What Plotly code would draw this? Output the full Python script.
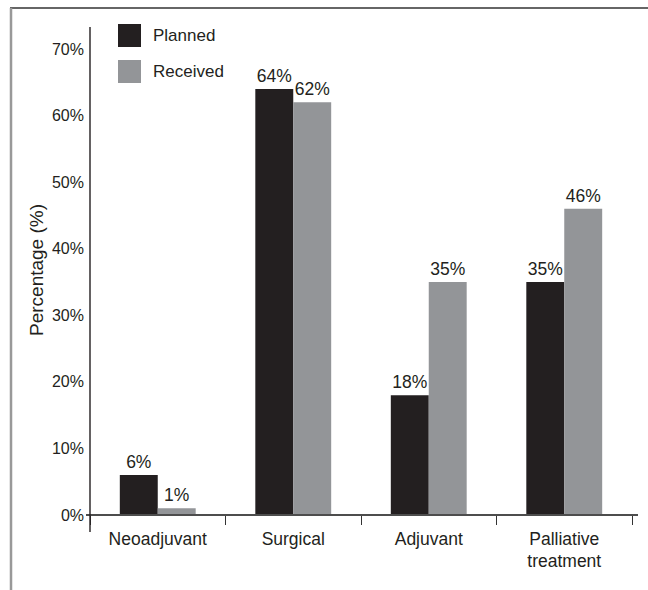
import plotly.graph_objects as go

# Treatment categories and percentages of patients
categories = ["Neoadjuvant", "Surgical", "Adjuvant", "Palliative<br>treatment"]
planned = [6, 64, 18, 35]
received = [1, 62, 35, 46]
series_names = ["Planned", "Received"]
y_ticks = [0, 10, 20, 30, 40, 50, 60, 70]
y_tick_labels = [f"{v}%" for v in y_ticks]

W, H = 648, 590
L, R, T, B = 90, 16, 27, 75
PW, PH = W - L - R, H - T - B

DARK = "#231f20"
GRAY = "#939598"
FONT = "Liberation Sans, Arial, sans-serif"


def px(x):
    return (x - L) / PW


def py(y):
    return (H - B - y) / PH


fig = go.Figure()
for name, vals, col in [(series_names[0], planned, DARK), (series_names[1], received, GRAY)]:
    fig.add_trace(go.Bar(
        x=categories, y=vals, name=name,
        marker=dict(color=col, line=dict(width=0)),
        text=[f"{v}%" for v in vals], textposition="outside",
        textfont=dict(size=17.5, color=DARK, family=FONT),
        constraintext="none", cliponaxis=False,
        showlegend=False,
    ))

shapes = [
    # outer frame (top and left)
    dict(type="line", xref="paper", yref="paper", x0=px(10), x1=px(W), y0=py(8), y1=py(8),
         line=dict(color="#333333", width=1.6)),
    dict(type="line", xref="paper", yref="paper", x0=px(11), x1=px(11), y0=py(8), y1=py(H),
         line=dict(color="#999999", width=2.5)),
    # axis lines
    dict(type="line", xref="paper", yref="paper", x0=px(86), x1=px(638), y0=0, y1=0,
         line=dict(color="#4d4d4d", width=1.8)),
    dict(type="line", xref="paper", yref="paper", x0=0, x1=0, y0=py(27), y1=py(532),
         line=dict(color=DARK, width=1.4)),
]

# legend swatches and labels
annotations = []
for i, (name, col) in enumerate([(series_names[0], DARK), (series_names[1], GRAY)]):
    y0 = 24 + i * 36
    shapes.append(dict(type="rect", xref="paper", yref="paper",
                       x0=px(118), x1=px(141), y0=py(y0), y1=py(y0 + 23),
                       fillcolor=col, line=dict(width=0)))
    annotations.append(dict(xref="paper", yref="paper", x=px(151), y=py(y0 + 11.5),
                            text=name, showarrow=False, xanchor="left", yanchor="middle",
                            font=dict(size=17, color=DARK, family=FONT)))

annotations.append(dict(xref="paper", yref="paper", x=px(36), y=py(270),
                        text="Percentage (%)", textangle=-90, showarrow=False,
                        xanchor="center", yanchor="middle",
                        font=dict(size=19, color=DARK, family=FONT)))

fig.update_layout(
    width=W, height=H,
    margin=dict(l=L, r=R, t=T, b=B, autoexpand=False),
    paper_bgcolor="white", plot_bgcolor="white",
    barmode="group", bargap=0.44, bargroupgap=0,
    font=dict(family=FONT, color=DARK),
    shapes=shapes, annotations=annotations,
    xaxis=dict(
        type="category", range=[-0.5, 3.5], showline=False, showgrid=False, zeroline=False,
        tickson="boundaries", ticks="outside", ticklen=9, tickwidth=1.3, tickcolor="#333333",
        ticklabelstandoff=11,
        tickfont=dict(size=17.5, color=DARK, family=FONT),
    ),
    yaxis=dict(
        range=[0, 73.3], showline=False, showgrid=False, zeroline=False,
        tickvals=y_ticks, ticktext=y_tick_labels, ticks="",
        ticklabelstandoff=5,
        tickfont=dict(size=16, color=DARK, family=FONT),
    ),
)

fig.write_html("out.html")
